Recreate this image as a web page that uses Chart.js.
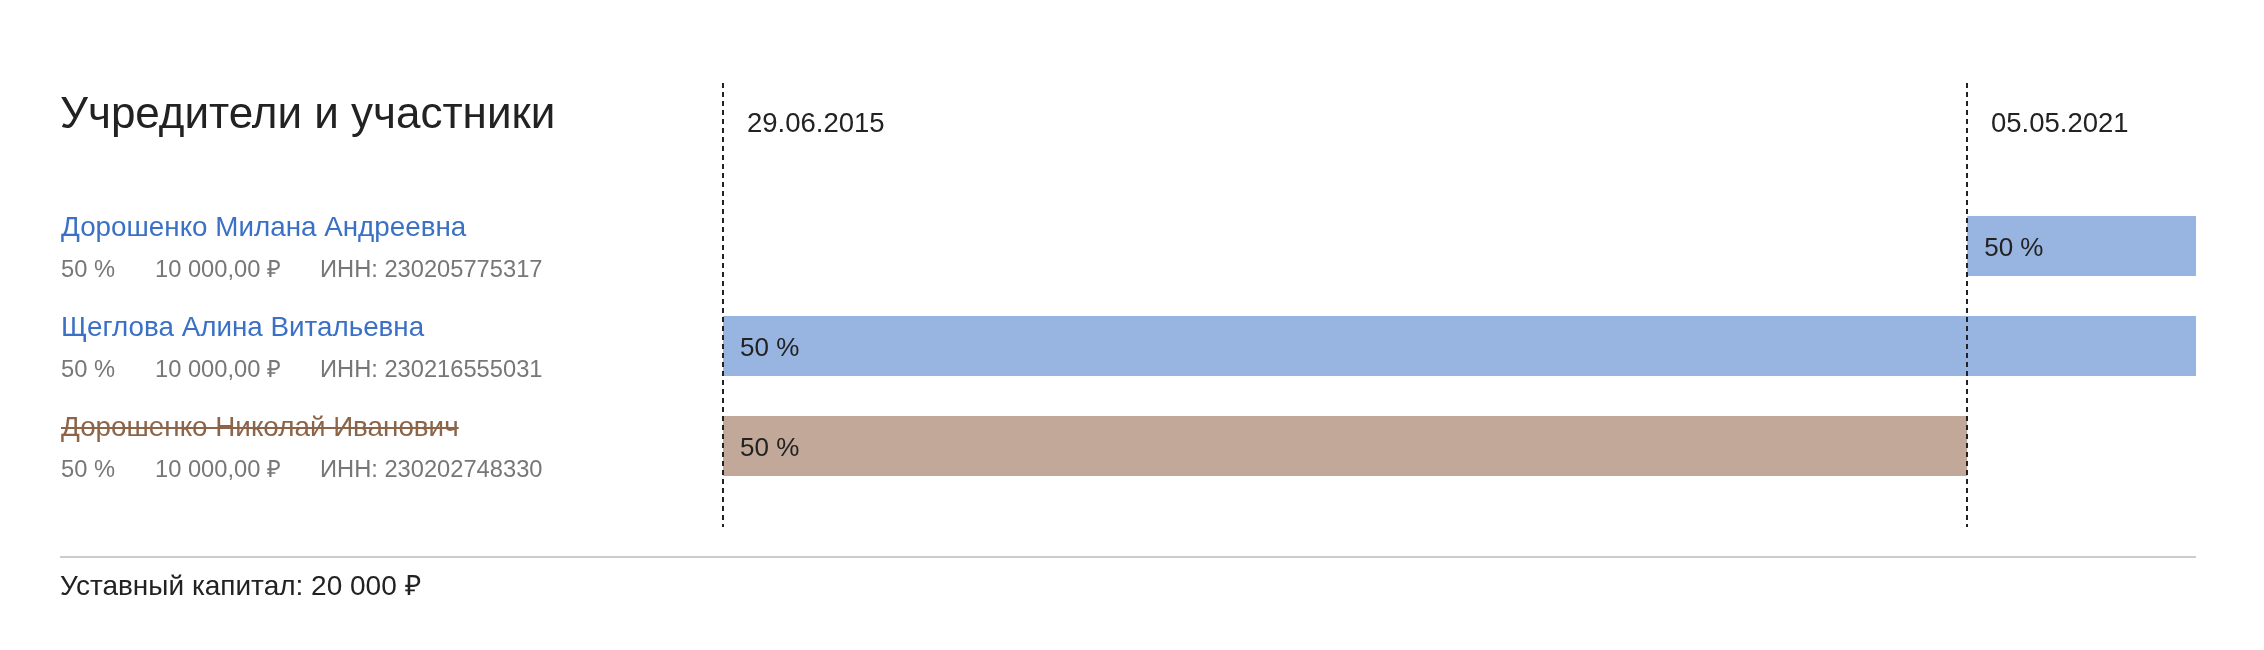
<!DOCTYPE html>
<html><head><meta charset="utf-8">
<script src="https://cdn.jsdelivr.net/npm/chart.js@4/dist/chart.umd.min.js"></script>
<style>
html,body{margin:0;padding:0;background:#fff;}
#wrap{position:relative;width:2264px;height:650px;overflow:hidden;font-family:"Liberation Sans",Arial,sans-serif;}
canvas{position:absolute;left:0;top:0;}
.t{position:absolute;white-space:nowrap;line-height:1;}
.title{left:60px;top:91px;font-size:44px;color:#222;}
.name{left:61px;font-size:27.8px;color:#3a70c5;}
.name.former{color:#8c6549;text-decoration:line-through;text-decoration-thickness:2px;}
.sub{font-size:23.7px;color:#777;}
.rule{position:absolute;left:60px;top:556px;width:2136px;height:2px;background:#cccccc;}
.footer{left:60px;top:572px;font-size:28px;color:#222;}
</style></head><body>
<div id="wrap"><canvas id="c" width="2264" height="650"></canvas></div>
<script>
const titleText = 'Учредители и участники';
const participants = ['Дорошенко Милана Андреевна', 'Щеглова Алина Витальевна', 'Дорошенко Николай Иванович'];
const shares = [50, 50, 50];
const amounts = ['10 000,00 ₽', '10 000,00 ₽', '10 000,00 ₽'];
const inns = ['230205775317', '230216555031', '230202748330'];
const former = [false, false, true];
const startDates = ['05.05.2021', '29.06.2015', '29.06.2015'];
const endDates = [null, null, '05.05.2021'];
const axisDates = ['29.06.2015', '05.05.2021'];
const rangeEnd = '02.06.2022';
const capitalText = 'Уставный капитал: 20 000 ₽';

const activeColor = '#98b4e0';
const formerColor = '#c1a898';

function toDay(s) {
  const [d, m, y] = s.split('.').map(Number);
  return Date.UTC(y, m - 1, d) / 86400000;
}

// HTML text panel
const wrap = document.getElementById('wrap');
function addText(cls, text, left, top) {
  const el = document.createElement('div');
  el.className = 't ' + cls;
  el.textContent = text;
  if (left !== null) el.style.left = left + 'px';
  if (top !== null) el.style.top = top + 'px';
  wrap.appendChild(el);
  return el;
}
addText('title', titleText, null, null);
participants.forEach((p, i) => {
  addText('name' + (former[i] ? ' former' : ''), p, null, 213 + i * 100);
  addText('sub', shares[i] + ' %', 61, 258 + i * 100);
  addText('sub', amounts[i], 155, 258 + i * 100);
  addText('sub', 'ИНН: ' + inns[i], 320, 258 + i * 100);
});
const rule = document.createElement('div'); rule.className = 'rule'; wrap.appendChild(rule);
addText('footer', capitalText, null, null);

const overlay = {
  id: 'overlay',
  afterDatasetsDraw(chart) {
    const ctx = chart.ctx, xs = chart.scales.x, area = chart.chartArea;
    ctx.save();
    axisDates.forEach(d => {
      const x = Math.round(xs.getPixelForValue(toDay(d)));
      ctx.strokeStyle = '#222';
      ctx.lineWidth = 2;
      ctx.setLineDash([5, 4]);
      ctx.beginPath();
      ctx.moveTo(x, area.top - 113);
      ctx.lineTo(x, area.bottom + 31);
      ctx.stroke();
      ctx.setLineDash([]);
      ctx.fillStyle = '#222';
      ctx.font = '27.5px "Liberation Sans", Arial, sans-serif';
      ctx.textBaseline = 'alphabetic';
      ctx.textAlign = 'left';
      ctx.fillText(d, x + 24, area.top - 64);
    });
    const meta = chart.getDatasetMeta(0);
    ctx.font = '26px "Liberation Sans", Arial, sans-serif';
    ctx.fillStyle = '#222';
    meta.data.forEach((el, i) => {
      const left = Math.min(el.base, el.x);
      ctx.fillText(shares[i] + ' %', left + 17, el.y + 10);
    });
    ctx.restore();
  }
};

new Chart(document.getElementById('c'), {
  type: 'bar',
  data: {
    labels: participants,
    datasets: [{
      data: participants.map((_, i) => [toDay(startDates[i]), toDay(endDates[i] || rangeEnd)]),
      backgroundColor: former.map(f => f ? formerColor : activeColor),
      borderWidth: 0,
      barPercentage: 0.6,
      categoryPercentage: 1
    }]
  },
  options: {
    indexAxis: 'y',
    responsive: false,
    animation: false,
    events: [],
    layout: { padding: { left: 723, right: 68, top: 196, bottom: 154 } },
    plugins: { legend: { display: false }, tooltip: { enabled: false } },
    scales: {
      x: { type: 'linear', display: false, min: toDay(axisDates[0]), max: toDay(rangeEnd) },
      y: { display: false }
    }
  },
  plugins: [overlay]
});
</script>
</body></html>
